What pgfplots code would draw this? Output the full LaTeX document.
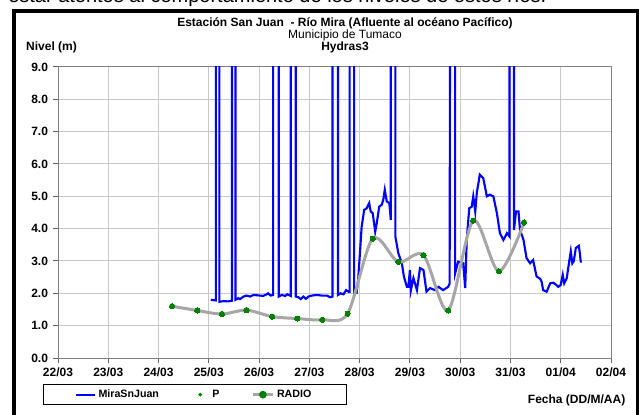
\documentclass[border=0pt]{standalone}
\usepackage{fontspec}
\setmainfont{Liberation Sans}
\usepackage{pgfplots}
\pgfplotsset{compat=1.18}

\definecolor{miraBlue}{RGB}{0,0,255}
\definecolor{radioGray}{RGB}{166,166,166}
\definecolor{dotGreen}{RGB}{0,128,0}
\definecolor{gridGray}{RGB}{200,200,200}

\newcommand{\lbl}{\bfseries\fontsize{9bp}{11bp}\selectfont}

\begin{document}
\begin{tikzpicture}
\begin{axis}[
    scale only axis,
    width=414.75bp, height=218.25bp,
    xmin=0, xmax=11, ymin=0, ymax=9,
    xtick={0,...,11},
    xticklabels={22/03,23/03,24/03,25/03,26/03,27/03,28/03,29/03,30/03,31/03,01/04,02/04},
    ytick={0,...,9},
    yticklabel style={/pgf/number format/.cd, fixed, fixed zerofill, precision=1, assume math mode=true},
    tick label style={font=\lbl},
    grid=major,
    grid style={gridGray, line width=0.75bp},
    axis line style={black!50, line width=0.75bp},
    tick pos=left,
    tick align=outside,
    major tick length=4bp,
    tick style={black!60, line width=0.75bp},
    legend columns=3,
    legend style={
        at={(-0.0277,-0.0893)}, anchor=north west,
        draw=black, line width=0.75bp,
        font=\bfseries\fontsize{8bp}{9.6bp}\selectfont,
        inner xsep=24bp, inner ysep=2bp,
        /tikz/every even column/.append style={column sep=22bp},
    },
]

% nivel registrado por el sensor (picos fuera de escala)
\addplot[miraBlue, line width=1.6bp,
    legend image code/.code={\draw[miraBlue, line width=1.5bp] (0bp,0bp) -- (14bp,0bp);}]
coordinates {
(3.04,1.80)(3.14,1.78)(3.14,12)(3.21,12)(3.21,1.74)(3.30,1.76)(3.38,1.75)(3.46,1.77)
(3.46,12)(3.53,12)(3.53,1.80)(3.59,1.85)(3.62,1.82)(3.69,1.90)(3.75,1.93)(3.82,1.90)
(3.89,1.95)(3.96,1.94)(4.02,1.93)(4.08,1.92)(4.15,1.97)(4.18,2.00)(4.23,1.93)(4.28,1.95)
(4.28,12)(4.39,12)(4.39,1.90)(4.45,1.95)(4.52,1.92)(4.56,1.97)(4.63,1.92)(4.63,12)
(4.73,12)(4.73,1.90)(4.78,1.88)(4.83,1.82)(4.88,1.90)(4.93,1.83)(4.98,1.90)(5.05,1.93)
(5.15,1.95)(5.25,1.93)(5.35,1.93)(5.41,1.88)(5.46,1.90)(5.46,12)(5.57,12)(5.57,1.95)
(5.62,2.00)(5.68,1.97)(5.73,2.10)(5.78,2.05)(5.80,2.05)(5.80,12)(5.89,12)(5.89,2.02)
(5.94,2.02)(5.97,2.41)(6.01,3.34)(6.04,4.06)(6.09,4.58)(6.14,4.63)(6.19,4.79)(6.22,4.53)
(6.26,4.48)(6.31,3.91)(6.34,4.17)(6.39,4.68)(6.44,4.74)(6.47,4.89)(6.50,5.20)(6.54,4.84)
(6.59,4.79)(6.62,4.27)(6.62,12)(6.71,12)(6.71,3.76)(6.77,3.24)(6.84,2.93)(6.88,2.52)
(6.94,2.20)(6.97,2.20)(7.00,2.72)(7.02,2.10)(7.07,2.47)(7.14,2.10)(7.20,2.78)(7.27,2.72)
(7.33,2.05)(7.40,2.16)(7.50,2.10)(7.57,2.20)(7.66,2.10)(7.76,2.20)(7.79,2.30)(7.80,12)
(7.90,12)(7.90,2.62)(7.96,2.98)(8.06,2.93)(8.10,2.16)(8.13,3.65)(8.18,4.63)(8.23,4.68)
(8.26,5.00)(8.30,4.53)(8.33,5.10)(8.39,5.67)(8.46,5.56)(8.53,5.00)(8.59,5.05)(8.66,5.00)
(8.73,4.48)(8.79,3.86)(8.86,3.65)(8.93,3.86)(8.98,3.76)(8.98,12)(9.07,12)(9.07,3.96)
(9.11,4.53)(9.16,4.53)(9.19,3.96)(9.26,3.65)(9.32,3.09)(9.39,2.93)(9.45,3.03)(9.52,2.52)
(9.59,2.45)(9.62,2.36)(9.65,2.10)(9.72,2.05)(9.79,2.31)(9.85,2.33)(9.91,2.26)(9.95,2.20)
(10.00,2.26)(10.04,2.57)(10.07,2.31)(10.12,2.47)(10.17,3.00)(10.20,3.30)(10.23,2.93)
(10.26,3.00)(10.30,3.40)(10.36,3.47)(10.38,3.24)(10.40,2.95)
};
\addlegendentry{MiraSnJuan}

\addplot[only marks, mark=*, mark size=1.9bp, draw=dotGreen, fill=dotGreen,
    legend image code/.code={\path[draw=none, fill=none] (0bp,-1bp) rectangle (14bp,1bp);
        \fill[dotGreen] (7bp,0bp) circle (1bp);}]
coordinates {
(2.27,1.60)(2.77,1.47)(3.26,1.36)(3.75,1.48)(4.26,1.28)(4.76,1.22)(5.26,1.18)(5.76,1.37)
(6.26,3.69)(6.77,2.97)(7.27,3.18)(7.76,1.47)(8.26,4.25)(8.77,2.68)(9.27,4.19)
};
\addlegendentry{P}

\addplot[radioGray, line width=2.25bp, smooth, mark=*,
    mark options={draw=dotGreen, fill=dotGreen, mark size=1.9bp, line width=0pt},
    legend image code/.code={\draw[radioGray, line width=2.25bp] (0bp,0bp) -- (15bp,0bp);
        \fill[dotGreen] (7.5bp,0bp) circle (1.7bp);}]
coordinates {
(2.27,1.60)(2.77,1.47)(3.26,1.36)(3.75,1.48)(4.26,1.28)(4.76,1.22)(5.26,1.18)(5.76,1.37)
(6.26,3.69)(6.77,2.97)(7.27,3.18)(7.76,1.47)(8.26,4.25)(8.77,2.68)(9.27,4.19)
};
\addlegendentry{RADIO}
\end{axis}

\begin{scope}[x=0.75bp, y=0.75bp]
\draw[line width=2.5bp] (-44,-80) -- (-44,347) -- (579.5,347) -- (579.5,-80);
\node[anchor=base west, inner sep=0, font=\fontsize{15bp}{18bp}\selectfont] at (-50,355)
    {estar atentos al comportamiento de los niveles de estos ríos.};
\node[font=\lbl] at (287,335) {Estación San Juan~ - Río Mira (Afluente al océano Pacífico)};
\node[font=\fontsize{9bp}{11bp}\selectfont] at (287,323) {Municipio de Tumaco};
\node[font=\lbl] at (287,311) {Hydras3};
\node[font=\lbl] at (-6.5,311) {Nivel (m)};
\node[font=\lbl, anchor=east] at (572,-42) {Fecha (DD/M/AA)};
\pgfresetboundingbox
\useasboundingbox (-58,-57) rectangle (581,358);
\end{scope}
\end{tikzpicture}
\end{document}
